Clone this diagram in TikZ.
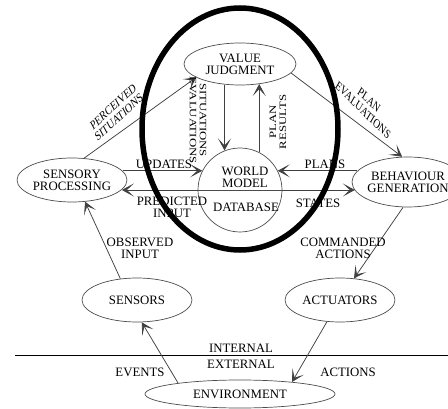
\documentclass[tikz,border=0pt]{standalone}
\usepackage{fontspec}
\setmainfont{Liberation Serif}
\usepackage{graphicx}
\usetikzlibrary{shapes.geometric,arrows.meta}
\begin{document}
\begin{tikzpicture}[x=1pt,y=-1pt,
  lbl/.style={font=\fontsize{12.8}{12}\selectfont, text=black, inner sep=0pt, align=center},
  blob/.style={ellipse, draw=black!70, line width=0.7pt, lbl, inner xsep=-3pt, inner ysep=0pt,
               minimum width=110pt, minimum height=44pt},
  arr/.style={draw=black!75, line width=0.75pt, -{Stealth[length=12pt,width=13pt,inset=7pt]}},
  squeeze/.style={lbl, font=\fontsize{12.8}{13}\selectfont, xscale=0.76},
]
\useasboundingbox (0,0) rectangle (448,409);
\clip (0,0) rectangle (448,409);

% processing modules
\node[blob, minimum width=112pt, minimum height=42pt] (vj) at (240,64) {VALUE\\JUDGMENT};
\node[blob] (sp) at (72,180) {SENSORY\\PROCESSING};
\node[blob, minimum width=112pt, minimum height=50pt] (bg) at (408,182) {BEHAVIOUR\\GENERATION};
\node[blob] (sens) at (137,300) {SENSORS};
\node[blob] (act) at (340,300) {ACTUATORS};
\node[blob, minimum width=190pt, minimum height=28pt] (env) at (240,394) {ENVIRONMENT};

% world model with its database half
\node[circle, draw=black!70, line width=0.7pt, minimum size=84pt, inner sep=0pt] (wm) at (240,190) {};
\draw[black!70, line width=0.7pt] (wm.west) -- (wm.east);
\node[lbl] (wmname) at (245,177) {WORLD\\MODEL};
\node[lbl] (db) at (246,207) {DATABASE};

% internal / external boundary
\coordinate (sepL) at (15,355);
\coordinate (sepR) at (448,355);
\draw[black, line width=0.7pt] (sepL) -- (sepR);
\node[lbl] (intl) at (241,348) {INTERNAL};
\node[lbl] (extl) at (241,364) {EXTERNAL};

% information flows
\draw[arr] (vj.-127) -- (vj.-127 |- wm.111);
\draw[arr] (wm.63) -- (wm.63 |- vj.-46);
\draw[arr] (sp.61) -- (vj.197);
\draw[arr] (vj.-10) -- (bg.103);
\draw[arr] (wm.153 -| sp.10) -- (wm.153);
\draw[arr] (wm.west) -- (wm.west -| sp.-11);
\draw[arr] (wm.27 -| bg.168) -- (wm.27);
\draw[arr] (wm.east) -- (wm.east -| bg.-171);
\draw[arr] (sens.128) -- (sp.-59);
\draw[arr] (env.170) -- (sens.-78);
\draw[arr] (act.239) -- (env.13);
\draw[arr] (bg.259) -- (act.57);

% flow labels
\node[squeeze, rotate=35] (perc) at (116,112) {PERCEIVED\\SITUATIONS};
\node[squeeze, rotate=-90] (sitev) at (198,120) {SITUATIONS\\EVALUATIONS};
\node[squeeze, rotate=90] (planres) at (278,122) {PLAN\\RESULTS};
\node[squeeze, rotate=-37] (planev) at (366,105) {PLAN\\EVALUATIONS};
\node[lbl] (upd) at (164,164) {UPDATES};
\node[lbl] (pred) at (172,207) {PREDICTED\\INPUT};
\node[lbl] (plans) at (325,164) {PLANS};
\node[lbl] (states) at (318,203) {STATES};
\node[lbl] (obs) at (140,248) {OBSERVED\\INPUT};
\node[lbl] (cmd) at (343,248) {COMMANDED\\ACTIONS};
\node[lbl] (ev) at (140,372) {EVENTS};
\node[lbl] (acts) at (348,372) {ACTIONS};

% highlighted core
\node[ellipse, draw=black, line width=5.5pt, minimum width=196pt, minimum height=242pt, inner sep=0pt] (core) at (240,129) {};
\end{tikzpicture}
\end{document}
